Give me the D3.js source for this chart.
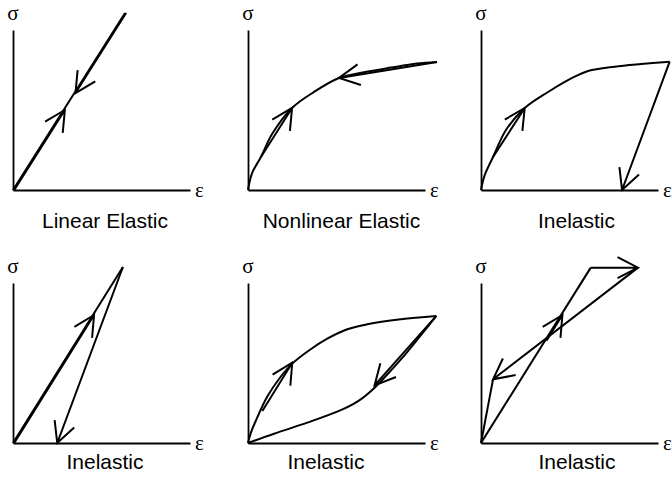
<!DOCTYPE html>
<html>
<head>
<meta charset="utf-8">
<script src="https://cdn.jsdelivr.net/npm/d3@7"></script>
<style>
	body { margin: 0; background: #fff; }
	.caption { font-family: "Liberation Sans", Arial, Helvetica, sans-serif; font-size: 21px; fill: #000; }
	.sym { font-family: "Liberation Serif", "Times New Roman", serif; font-size: 21px; fill: #000; }
	.axis path { stroke: #000; stroke-width: 1.8; }
</style>
</head>
<body>
<div id="chart"></div>
<script>

// strain / stress, both normalised so the drawn axis runs 0..1
const titles = ["Linear Elastic", "Nonlinear Elastic", "Inelastic", "Inelastic", "Inelastic", "Inelastic"];

// panel 1 - linear elastic
const linearLoad = [[0, 0], [0.633, 1.106]];
const linearArrows = [[0.007, 0, 0.293, 0.5], [0.639, 1.106, 0.353, 0.606]];

// panel 2 - nonlinear elastic
const nonlinLoad = [[0, 0], [0.023, 0.106], [0.073, 0.206], [0.136, 0.35], [0.249, 0.513], [0.373, 0.613],
	[0.514, 0.70], [0.655, 0.736], [0.808, 0.765], [0.955, 0.79], [1.068, 0.80]];
const nonlinArrows = [[0.073, 0.206, 0.249, 0.513], [1.068, 0.80, 0.514, 0.70]];

// panel 3 - inelastic, unload to permanent strain
const inel1Load = [[0, 0], [0.02, 0.09], [0.068, 0.206], [0.141, 0.375], [0.247, 0.5125], [0.379, 0.6125], [0.529, 0.708],
	[0.605, 0.744], [0.755, 0.771], [0.904, 0.7875], [1.066, 0.802]];
const inel1Arrows = [[0.068, 0.206, 0.247, 0.5125], [1.066, 0.802, 0.797, 0]];

// panel 4 - inelastic, linear
const inel2Load = [[0, 0], [0.621, 1.10]];
const inel2Arrows = [[0.007, 0, 0.458, 0.80], [0.621, 1.10, 0.25, 0]];

// panel 5 - inelastic, hysteresis loop
const inel3Load = [[0, 0], [0.015, 0.06], [0.0435, 0.1375], [0.109, 0.29], [0.175, 0.40], [0.25, 0.496], [0.354, 0.586],
	[0.448, 0.652], [0.561, 0.711], [0.674, 0.742], [0.863, 0.773], [1.064, 0.794]];
const inel3Unload = [[0, 0], [0.147, 0.058], [0.335, 0.127], [0.524, 0.205], [0.62, 0.26], [0.70, 0.33],
	[0.78, 0.42], [0.87, 0.53], [0.97, 0.665], [1.064, 0.794]];
const inel3Arrows = [[0.081, 0.2, 0.25, 0.502], [1.064, 0.794, 0.715, 0.36]];

// panel 6 - inelastic, polyline path
const inel4Load = [[0, 0], [0.62, 1.096]];
const inel4Return = [[0.068, 0.398], [0, 0]];
const inel4Arrows = [[0.370, 0.64, 0.460, 0.80], [0.62, 1.096, 0.887, 1.096], [0.887, 1.096, 0.068, 0.398]];

const panels = [
	{ curves: [linearLoad], smooth: false, arrows: linearArrows },
	{ curves: [nonlinLoad], smooth: true, arrows: nonlinArrows },
	{ curves: [inel1Load], smooth: true, arrows: inel1Arrows },
	{ curves: [inel2Load], smooth: false, arrows: inel2Arrows },
	{ curves: [inel3Load, inel3Unload], smooth: true, arrows: inel3Arrows },
	{ curves: [inel4Load, inel4Return], smooth: false, arrows: inel4Arrows }
];

// layout
const colX = [13, 248, 481];
const rowY = [190, 443];
const captionY = [228, 469];
const captionDx = [92, 93.5, 95.5, 92, 78, 96];
const axisW = 177, axisH = 160;
const headLen = 23, headAng = 27 * Math.PI / 180;

const svg = d3.select('#chart').append('svg')
	.attr('width', 672)
	.attr('height', 482);

panels.forEach((p, i) => {
	const ox = colX[i % 3];
	const oy = rowY[Math.floor(i / 3)];

	const x = d3.scaleLinear().domain([0, 1]).range([ox, ox + axisW]);
	const y = d3.scaleLinear().domain([0, 1]).range([oy, oy - axisH]);

	const g = svg.append('g');

	// axes, no ticks
	g.append('g')
		.attr('class', 'axis')
		.attr('transform', `translate(0, ${oy})`)
		.call(d3.axisBottom(x).ticks(0).tickSizeOuter(0));
	g.append('g')
		.attr('class', 'axis')
		.attr('transform', `translate(${ox}, 0)`)
		.call(d3.axisLeft(y).ticks(0).tickSizeOuter(0));

	g.append('text')
		.attr('class', 'sym')
		.attr('x', ox)
		.attr('y', oy - 170)
		.attr('text-anchor', 'middle')
		.text('σ');
	g.append('text')
		.attr('class', 'sym')
		.attr('x', ox + 182)
		.attr('y', oy + 7)
		.text('ε');

	const line = d3.line()
		.x(d => x(d[0]))
		.y(d => y(d[1]))
		.curve(p.smooth ? d3.curveCatmullRom.alpha(0.5) : d3.curveLinear);

	g.selectAll('path.curve')
		.data(p.curves)
		.join('path')
		.attr('class', 'curve')
		.attr('d', line)
		.attr('fill', 'none')
		.attr('stroke', '#000')
		.attr('stroke-width', 2)
		.attr('stroke-linejoin', 'round');

	// open arrows: straight shaft + two barbs at the tip
	p.arrows.forEach(a => {
		const x1 = x(a[0]), y1 = y(a[1]), x2 = x(a[2]), y2 = y(a[3]);
		const ang = Math.atan2(y2 - y1, x2 - x1);
		const b1 = [x2 - headLen * Math.cos(ang - headAng), y2 - headLen * Math.sin(ang - headAng)];
		const b2 = [x2 - headLen * Math.cos(ang + headAng), y2 - headLen * Math.sin(ang + headAng)];
		g.append('path')
			.attr('d', `M${x1},${y1}L${x2},${y2}M${b1[0]},${b1[1]}L${x2},${y2}L${b2[0]},${b2[1]}`)
			.attr('fill', 'none')
			.attr('stroke', '#000')
			.attr('stroke-width', 2)
			.attr('stroke-linejoin', 'miter');
	});

	g.append('text')
		.attr('class', 'caption')
		.attr('x', ox + captionDx[i])
		.attr('y', captionY[Math.floor(i / 3)])
		.attr('text-anchor', 'middle')
		.text(titles[i]);
});

</script>
</body>
</html>
